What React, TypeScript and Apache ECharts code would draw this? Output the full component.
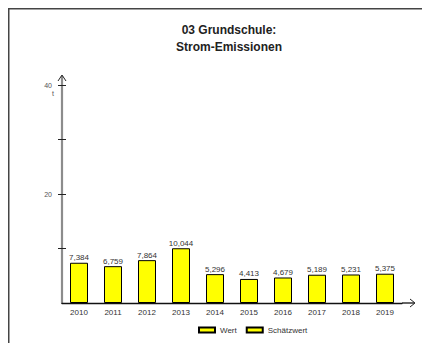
import React, { useEffect, useRef } from "react";
import * as echarts from "echarts";

const categories = ["2010", "2011", "2012", "2013", "2014", "2015", "2016", "2017", "2018", "2019"];
const wertValues = [7.384, 6.759, 7.864, 10.044, 5.296, 4.413, 4.679, 5.189, 5.231, 5.375];
const schaetzValues: (number | null)[] = [null, null, null, null, null, null, null, null, null, null];
const yTickValues = [10, 20, 30, 40];
const yLabelValues = [20, 40];
const titleLines = ["03 Grundschule:", "Strom-Emissionen"];
const seriesNames = ["Wert", "Schätzwert"];
const unitLabel = "t";

const FONT = "'Liberation Sans', Arial, sans-serif";

export default function App() {
  const ref = useRef<HTMLDivElement>(null);
  useEffect(() => {
    if (!ref.current) return;
    const chart = echarts.init(ref.current, null, { renderer: "svg" });
    const fmt = (v: number) => v.toFixed(3).replace(".", ",");
    chart.setOption({
      animation: false,
      backgroundColor: "#ffffff",
      textStyle: { fontFamily: FONT },
      title: {
        text: titleLines.join("\n"),
        left: 224,
        top: 16,
        textAlign: "center",
        textStyle: { fontSize: 12, fontWeight: "bold", color: "#222", lineHeight: 17, fontFamily: FONT },
      },
      legend: {
        left: 193,
        top: 321,
        itemWidth: 16,
        itemHeight: 5,
        itemGap: 9,
        textStyle: { fontSize: 8, color: "#333", fontFamily: FONT },
        data: seriesNames.map((n) => ({ name: n, icon: "rect" })),
      },
      grid: { left: 62, right: 20, top: 85, bottom: 40 },
      xAxis: {
        type: "category",
        data: categories,
        axisLine: { lineStyle: { color: "#111", width: 1.3 } },
        axisTick: { alignWithLabel: true, length: 3, lineStyle: { color: "#222" } },
        axisLabel: { fontSize: 8, color: "#333", margin: 5, fontFamily: FONT },
      },
      yAxis: [
        {
          type: "value",
          min: 0,
          max: 40,
          interval: 10,
          axisLine: { show: true, lineStyle: { color: "#8c8c8c", width: 2.2 } },
          axisTick: { show: true, length: 4, customValues: yTickValues, lineStyle: { color: "#222" } },
          axisLabel: { fontSize: 7, color: "#555", margin: 10, customValues: yLabelValues, fontFamily: FONT },
          splitLine: { show: false },
        },
        {
          type: "value",
          min: 0,
          max: 40,
          interval: 10,
          position: "left",
          axisLine: { show: false },
          axisTick: { show: true, inside: true, length: 4, customValues: yTickValues, lineStyle: { color: "#222" } },
          axisLabel: { show: false },
          splitLine: { show: false },
        },
      ],
      series: [
        {
          name: seriesNames[0],
          type: "bar",
          stack: "all",
          barWidth: 18,
          data: wertValues,
          itemStyle: { color: "#ffff00", borderColor: "#000", borderWidth: 1 },
          label: {
            show: true,
            position: "top",
            distance: 1,
            fontSize: 8,
            color: "#333",
            fontFamily: FONT,
            formatter: (p: any) => fmt(p.value),
          },
        },
        {
          name: seriesNames[1],
          type: "bar",
          stack: "all",
          barWidth: 18,
          data: schaetzValues,
          itemStyle: { color: "#ffff00", borderColor: "#000", borderWidth: 1 },
        },
      ],
      graphic: [
        {
          type: "rect",
          shape: { x: 8.75, y: 8.75, width: 600, height: 600 },
          style: { fill: "none", stroke: "#444", lineWidth: 1.5 },
        },
        {
          type: "line",
          shape: { x1: 62, y1: 85, x2: 62, y2: 76 },
          style: { stroke: "#8c8c8c", lineWidth: 2.2 },
        },
        {
          type: "polyline",
          shape: { points: [[58, 81], [62, 75], [66, 81]] },
          style: { stroke: "#222", lineWidth: 1, fill: "none" },
        },
        {
          type: "line",
          shape: { x1: 402, y1: 303, x2: 414, y2: 303 },
          style: { stroke: "#111", lineWidth: 1.3 },
        },
        {
          type: "polyline",
          shape: { points: [[410, 299], [415, 303], [410, 307]] },
          style: { stroke: "#222", lineWidth: 1, fill: "none" },
        },
        {
          type: "text",
          x: 53,
          y: 93,
          style: { text: unitLabel, fontSize: 7, fill: "#555", align: "center", verticalAlign: "middle", fontFamily: FONT },
        },
      ],
    });
    return () => chart.dispose();
  }, []);
  return <div ref={ref} style={{ position: "absolute", left: 0, top: 0, width: 422, height: 343 }} />;
}
